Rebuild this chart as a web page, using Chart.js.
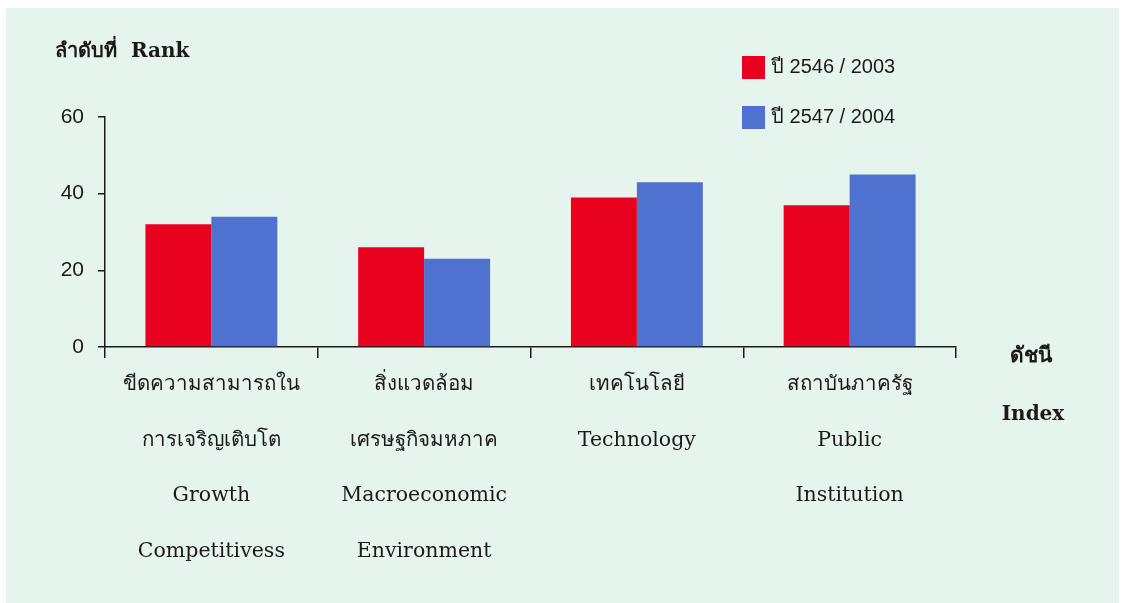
<!DOCTYPE html>
<html lang="th">
<head>
<meta charset="utf-8">
<title>ลำดับที่ Rank</title>
<script src="https://cdn.jsdelivr.net/npm/chart.js@4.4.1/dist/chart.umd.min.js"></script>
<style>
  html, body { margin: 0; padding: 0; background: #ffffff; }
  #wrap { width: 1125px; height: 603px; position: relative; }
</style>
</head>
<body>
<div id="wrap"><canvas id="chartRank" width="1125" height="603"></canvas></div>
<script>
// ข้อมูลอันดับตามดัชนี
const categories = [
  ['ขีดความสามารถใน', 'การเจริญเติบโต', 'Growth', 'Competitivess'],
  ['สิ่งแวดล้อม', 'เศรษฐกิจมหภาค', 'Macroeconomic', 'Environment'],
  ['เทคโนโลยี', 'Technology'],
  ['สถาบันภาครัฐ', 'Public', 'Institution']
];
const rank2003 = [32, 26, 39, 37];
const rank2004 = [34, 23, 43, 45];
const yTicks = [0, 20, 40, 60];
const seriesNames = ['ปี 2546 / 2003', 'ปี 2547 / 2004'];

const RED = '#e8001f';
const BLUE = '#4f72d0';
const INK = '#1a1a1a';
const BG = '#e5f4ec';
const SERIF = "'DejaVu Serif', 'Liberation Serif', serif";
const SANS = "'Liberation Sans', Arial, sans-serif";

// พื้นหลัง ข้อความหัวแกน และคำอธิบายสัญลักษณ์
const decor = {
  id: 'decor',
  beforeDraw(chart) {
    const c = chart.ctx;
    c.save();
    c.fillStyle = BG;
    c.fillRect(6, 8, 1113, 595);
    c.restore();
  },
  afterDraw(chart) {
    const c = chart.ctx;
    c.save();
    c.fillStyle = INK;
    c.textBaseline = 'middle';
    c.textAlign = 'left';
    c.font = 'bold 20px ' + SERIF;
    c.fillText('ลำดับที่  Rank', 55, 52);

    c.textAlign = 'center';
    c.font = 'bold 21px ' + SERIF;
    c.fillText('ดัชนี', 1031, 357);
    c.font = 'bold 20px ' + SERIF;
    c.fillText('Index', 1033, 415);

    // legend
    c.textAlign = 'left';
    chart.data.datasets.forEach((ds, i) => {
      const y = 67 + i * 50;
      c.fillStyle = ds.backgroundColor;
      c.fillRect(742, y - 11, 23, 23);
      c.fillStyle = INK;
      c.font = '20px ' + SANS;
      c.fillText(ds.label, 771, y);
    });
    c.restore();
  }
};

new Chart(document.getElementById('chartRank').getContext('2d'), {
  type: 'bar',
  data: {
    labels: categories,
    datasets: [
      { label: seriesNames[0], data: rank2003, backgroundColor: RED },
      { label: seriesNames[1], data: rank2004, backgroundColor: BLUE }
    ]
  },
  options: {
    responsive: false,
    animation: false,
    layout: { padding: { left: 0, right: 169, top: 117, bottom: 0 } },
    datasets: { bar: { categoryPercentage: 0.62, barPercentage: 1.0 } },
    plugins: { legend: { display: false }, tooltip: { enabled: false } },
    scales: {
      x: {
        offset: true,
        border: { display: true, color: INK, width: 1.5 },
        grid: { offset: true, drawOnChartArea: false, drawTicks: true, tickLength: 11, color: INK, lineWidth: 1.5 },
        ticks: { color: INK, padding: -1, maxRotation: 0, autoSkip: false,
          font: { family: SERIF, size: 20.5, lineHeight: 2.71 } },
        afterFit: scale => { scale.height = 256; }
      },
      y: {
        min: 0, max: 60,
        afterBuildTicks: scale => { scale.ticks = yTicks.map(v => ({ value: v })); },
        border: { display: true, color: INK, width: 1.5 },
        grid: { drawOnChartArea: false, drawTicks: true, tickLength: 7, color: INK, lineWidth: 1.5 },
        ticks: { color: INK, padding: 14, font: { family: SANS, size: 21 } },
        afterFit: scale => { scale.width = 105; }
      }
    }
  },
  plugins: [decor]
});
</script>
</body>
</html>
